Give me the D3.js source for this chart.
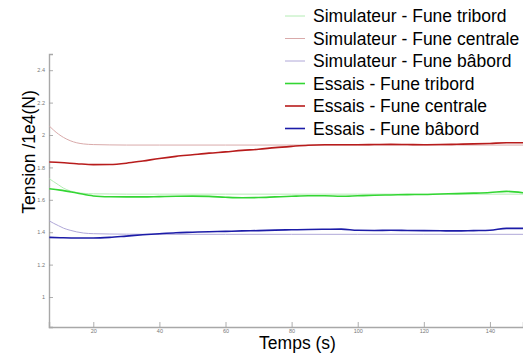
<!DOCTYPE html>
<html><head><meta charset="utf-8">
<script src="https://cdn.jsdelivr.net/npm/d3@7/dist/d3.min.js"></script>
<style>
html,body{margin:0;padding:0;background:#fff;}
svg{display:block;font-family:"Liberation Sans",Arial,sans-serif;}
</style></head>
<body><svg id="c" width="523" height="354"></svg>
<script>
// ---- data ----
const seriesNames = ["Simulateur - Fune tribord","Simulateur - Fune centrale","Simulateur - Fune bâbord","Essais - Fune tribord","Essais - Fune centrale","Essais - Fune bâbord"];
const seriesColors = ["#b4ecb4","#d9aaaa","#b0a8d8","#33d633","#b81c1c","#1c1ca8"];
const seriesWidths = [1,1,1,1.6,1.6,1.6];

const simTimes = [6.7, 8, 9.5, 11, 13, 15, 17, 20, 25, 30, 40, 60, 80, 100, 120, 140, 150];
const simTribord  = [1.730, 1.712, 1.692, 1.672, 1.655, 1.645, 1.640, 1.637, 1.636, 1.635, 1.635, 1.635, 1.635, 1.635, 1.635, 1.635, 1.635];
const simCentrale = [2.055, 2.030, 2.005, 1.985, 1.965, 1.952, 1.945, 1.941, 1.939, 1.938, 1.938, 1.938, 1.938, 1.938, 1.938, 1.938, 1.938];
const simBabord   = [1.470, 1.455, 1.440, 1.425, 1.412, 1.402, 1.395, 1.391, 1.389, 1.388, 1.387, 1.387, 1.387, 1.387, 1.387, 1.387, 1.387];

const essTimes = [6.7, 10, 15, 20, 25, 30, 35, 40, 45, 50, 55, 60, 65, 70, 75, 80, 85, 90, 95, 100, 105, 110, 115, 120, 125, 130, 135, 140, 145, 150];
const essTribord  = [1.668, 1.660, 1.642, 1.624, 1.619, 1.618, 1.618, 1.620, 1.622, 1.623, 1.621, 1.616, 1.613, 1.614, 1.618, 1.622, 1.625, 1.625, 1.622, 1.625, 1.628, 1.630, 1.632, 1.633, 1.636, 1.638, 1.641, 1.645, 1.652, 1.644];
const essCentrale = [1.833, 1.830, 1.823, 1.817, 1.818, 1.826, 1.840, 1.855, 1.868, 1.878, 1.888, 1.896, 1.905, 1.912, 1.922, 1.930, 1.937, 1.940, 1.940, 1.940, 1.941, 1.942, 1.941, 1.940, 1.941, 1.943, 1.945, 1.948, 1.952, 1.952];
const essBabord   = [1.368, 1.366, 1.364, 1.364, 1.368, 1.376, 1.384, 1.391, 1.397, 1.400, 1.403, 1.405, 1.408, 1.410, 1.413, 1.415, 1.417, 1.418, 1.419, 1.412, 1.411, 1.412, 1.411, 1.410, 1.409, 1.408, 1.410, 1.412, 1.424, 1.424];

const xTicks = [20, 40, 60, 80, 100, 120, 140];
const yTicks = [1, 1.2, 1.4, 1.6, 1.8, 2, 2.2, 2.4];
const xLabel = "Temps (s)";
const yLabel = "Tension /1e4(N)";

// ---- chart ----
const svg = d3.select("#c");
const x = d3.scaleLinear().domain([6.6, 150]).range([49, 523]);
const y = d3.scaleLinear().domain([0.815, 2.5]).range([327, 54]);

const allSeries = [
  {t: simTimes, v: simTribord},
  {t: simTimes, v: simCentrale},
  {t: simTimes, v: simBabord},
  {t: essTimes, v: essTribord},
  {t: essTimes, v: essCentrale},
  {t: essTimes, v: essBabord}
];

// axes
const xAxis = svg.append("g").attr("transform", "translate(0,327)")
  .call(d3.axisBottom(x).tickValues(xTicks).tickSize(-5).tickPadding(2).tickFormat(d3.format("d")));
const yAxis = svg.append("g").attr("transform", "translate(49,0)")
  .call(d3.axisLeft(y).tickValues(yTicks).tickSize(-4).tickPadding(4).tickFormat(d => String(d)));
[xAxis, yAxis].forEach(a => {
  a.select(".domain").attr("stroke", "#a8a8a8").attr("stroke-width", 1.4);
  a.selectAll(".tick line").attr("stroke", "#999").attr("stroke-width", 0.8);
  a.selectAll(".tick text").attr("fill", "#777").attr("font-size", 5.5).attr("font-family", "Liberation Sans, Arial, sans-serif");
});

// lines
const line = d3.line().curve(d3.curveMonotoneX);
allSeries.forEach((s, i) => {
  const pts = s.t.map((t, j) => [x(t), y(s.v[j])]);
  svg.append("path").attr("d", line(pts)).attr("fill", "none")
    .attr("stroke", seriesColors[i]).attr("stroke-width", seriesWidths[i]);
});

// axis labels
svg.append("text").attr("x", 297.5).attr("y", 349).attr("text-anchor", "middle")
  .attr("font-size", 17.5).attr("fill", "#000").text(xLabel);
svg.append("text").attr("transform", "translate(35,152) rotate(-90)").attr("text-anchor", "middle")
  .attr("font-size", 17.5).attr("fill", "#000").text(yLabel);

// legend
const lg = svg.append("g");
seriesNames.forEach((n, i) => {
  const cy = 16 + i * 22.5;
  lg.append("line").attr("x1", 285).attr("x2", 305).attr("y1", cy).attr("y2", cy)
    .attr("stroke", seriesColors[i]).attr("stroke-width", seriesWidths[i]);
  lg.append("text").attr("x", 313).attr("y", cy + 6).attr("font-size", 17.5).attr("fill", "#000").text(n);
});
</script></body></html>
